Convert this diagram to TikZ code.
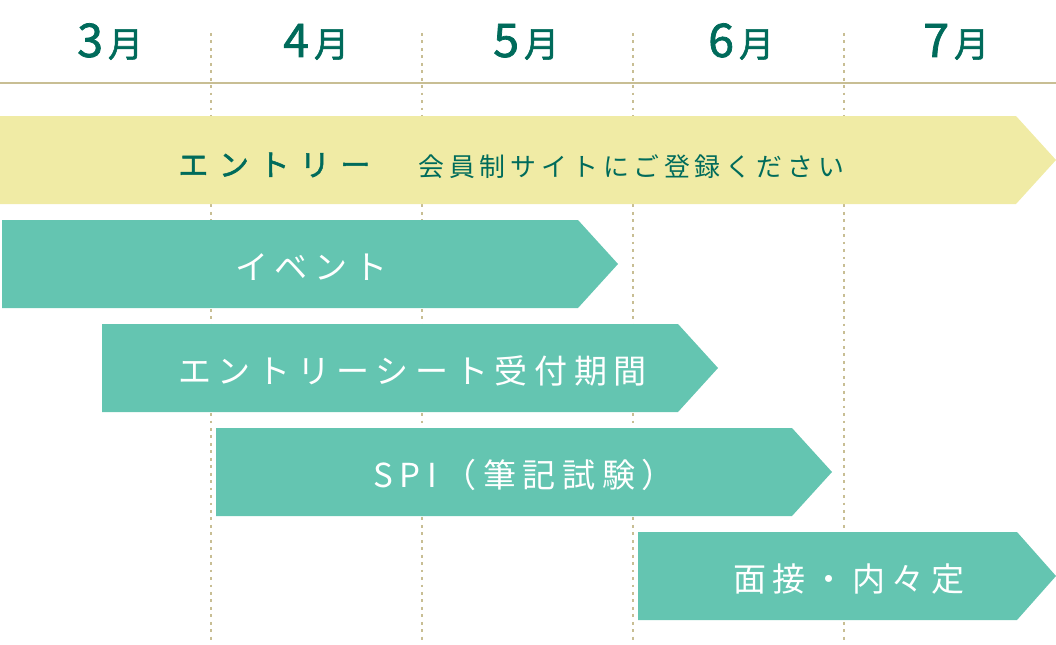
\documentclass[tikz,border=0pt]{standalone}
\usepackage{fontspec}
\usepackage{xcolor}
\usepackage{tikz}
\newfontfamily\jpfont[LetterSpace=20]{Noto Sans CJK JP}
\newfontfamily\jpnote[LetterSpace=19]{Noto Sans CJK JP}
\newfontfamily\jpmid[FakeBold=1.6]{Noto Sans CJK JP}
\newfontfamily\jpwide[LetterSpace=34, FakeBold=1.6]{Noto Sans CJK JP}
\definecolor{deepteal}{HTML}{006B5B}
\definecolor{entryyellow}{HTML}{F0EBA5}
\definecolor{barteal}{HTML}{64C5B1}
\definecolor{ruletan}{HTML}{C8BE94}

\begin{document}
\begin{tikzpicture}[x=0.025cm, y=-0.025cm,
    monthlabel/.style={anchor=base west, inner sep=0pt, text=deepteal, font=\jpmid},
    barlabel/.style={anchor=base west, inner sep=0pt, text=white, font=\jpfont\fontsize{23.5}{24}\selectfont},
    gridline/.style={ruletan, line width=2pt, dash pattern=on 2pt off 3.3pt}]
            \useasboundingbox (0,0) rectangle (1056,644);

            % Month grid
            \foreach \x in {211,422,633,844}
                \draw[gridline] (\x,33) -- (\x,644);
            \draw[ruletan, line width=1.5pt] (0,83) -- (1056,83);

            % Months
            \node[monthlabel] (m3) at (77,57) {{\fontsize{33}{33}\selectfont 3}\hspace{3.5pt}{\fontsize{25}{25}\selectfont 月}};
            \node[monthlabel] (m4) at (283,57) {{\fontsize{33}{33}\selectfont 4}\hspace{3.5pt}{\fontsize{25}{25}\selectfont 月}};
            \node[monthlabel] (m5) at (493,57) {{\fontsize{33}{33}\selectfont 5}\hspace{3.5pt}{\fontsize{25}{25}\selectfont 月}};
            \node[monthlabel] (m6) at (708,57) {{\fontsize{33}{33}\selectfont 6}\hspace{3.5pt}{\fontsize{25}{25}\selectfont 月}};
            \node[monthlabel] (m7) at (923,57) {{\fontsize{33}{33}\selectfont 7}\hspace{3.5pt}{\fontsize{25}{25}\selectfont 月}};

            % Entry (whole period)
            \fill[entryyellow] (0,116) -- (1016,116) -- (1056,160) -- (1016,204) -- (0,204) -- cycle;
            \node[anchor=base west, inner sep=0pt, text=deepteal, font=\jpwide\fontsize{21.5}{22}\selectfont] (entry) at (178,176) {エントリー};
            \node[anchor=base west, inner sep=0pt, text=deepteal, font=\jpnote\fontsize{18.4}{19}\selectfont] (entrynote) at (418,176) {会員制サイトにご登録ください};

            % Event
            \fill[barteal] (2,220) -- (578,220) -- (618,264) -- (578,308) -- (2,308) -- cycle;
            \node[barlabel] (event) at (235,279) {イベント};

            % Entry sheet
            \fill[barteal] (102,324) -- (678,324) -- (718,368) -- (678,412) -- (102,412) -- cycle;
            \node[barlabel] (sheet) at (178,383) {エントリーシート受付期間};

            % SPI
            \fill[barteal] (216,428) -- (792,428) -- (832,472) -- (792,516) -- (216,516) -- cycle;
            \node[barlabel] (spi) at (373,487) {SPI（筆記試験）};

            % Interview
            \fill[barteal] (638,532) -- (1017,532) -- (1056,576) -- (1017,620) -- (638,620) -- cycle;
            \node[barlabel] (interview) at (733,591) {面接・内々定};
            \end{tikzpicture}
\end{document}
